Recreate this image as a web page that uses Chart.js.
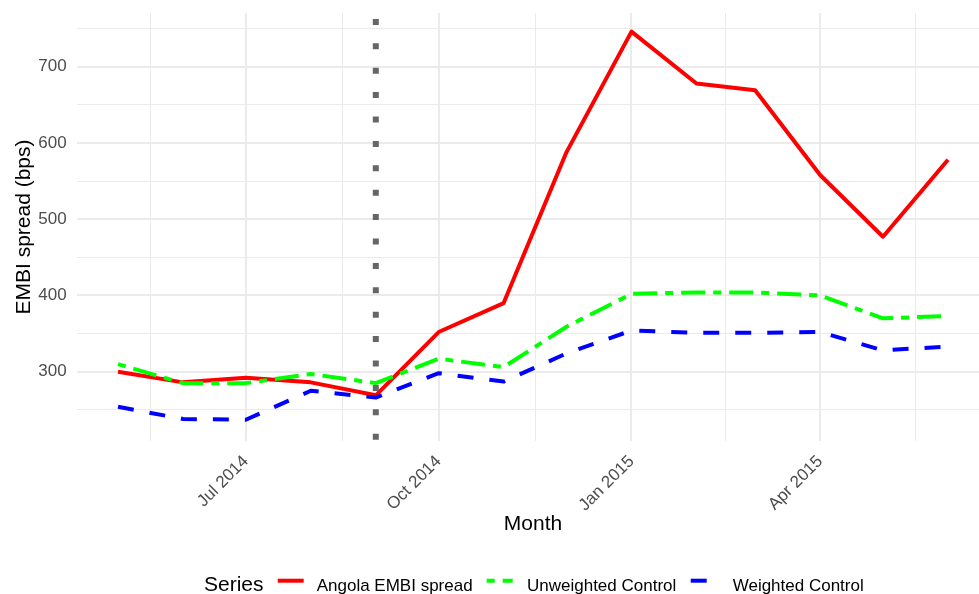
<!DOCTYPE html>
<html><head><meta charset="utf-8">
<script src="https://cdn.jsdelivr.net/npm/chart.js@4/dist/chart.umd.min.js"></script>
<style>html,body{margin:0;padding:0;background:#fff;overflow:hidden}canvas{display:block}</style>
</head><body>
<canvas id="c" width="979" height="594"></canvas>
<script>
// ---- data ----
const months = ["2014-05-01","2014-06-01","2014-07-01","2014-08-01","2014-09-01","2014-10-01","2014-11-01",
                "2014-12-01","2015-01-01","2015-02-01","2015-03-01","2015-04-01","2015-05-01","2015-06-01"];
const angola     = [300, 286, 292, 286, 269, 352, 390, 588, 746, 678, 669, 558, 477, 578];
const unweighted = [310, 285, 285, 297, 285, 317, 306, 359, 402, 404, 404, 400, 370, 373];
const weighted   = [254, 238, 237, 275, 266, 298, 287, 324, 354, 351, 351, 352, 328, 333];
const seriesNames = ["Angola EMBI spread", "Unweighted Control", "Weighted Control"];
const xTickDates  = ["2014-07-01","2014-10-01","2015-01-01","2015-04-01"];
const xTickLabels = ["Jul 2014","Oct 2014","Jan 2015","Apr 2015"];
const xBreakEdges = ["2014-04-01","2015-07-01"];
const yTickValues = [300, 400, 500, 600, 700];
const eventDate = "2014-09-01";

// ---- helpers ----
const FAMILY = '"Liberation Sans", Arial, Helvetica, sans-serif';
const SMALL = 17, BIG = 21;
const toDay = s => { const [y,m,d] = s.split('-').map(Number); return (Date.UTC(y,m-1,d) - Date.UTC(2014,4,1)) / 864e5; };
const xs = months.map(toDay);
const pts = arr => arr.map((v,i) => ({x: xs[i], y: v}));
const majorX = xTickDates.map(toDay);
const extX = [toDay(xBreakEdges[0]), ...majorX, toDay(xBreakEdges[1])];
const minorX = extX.slice(1).map((v,i) => (v + extX[i]) / 2);
const extY = [200, ...yTickValues, 800];
const minorY = extY.slice(1).map((v,i) => (v + extY[i]) / 2);

const X_MIN = -19.8, X_MAX = 410.8, Y_MIN = 209.1, Y_MAX = 770.4;
const eventX = toDay(eventDate);

const dashes = [[], [8, 8, 24, 8], [16, 16]];
const colors = ['#FF0000', '#00FF00', '#0000FF'];

const overlay = {
  id: 'overlay',
  afterDraw(chart) {
    const ctx = chart.ctx;
    ctx.save();
    ctx.fillStyle = '#000';
    ctx.font = BIG + 'px ' + FAMILY;
    ctx.textAlign = 'center';
    ctx.textBaseline = 'alphabetic';
    ctx.fillText('Month', 533, 530);
    ctx.save();
    ctx.translate(29.7, 227);
    ctx.rotate(-Math.PI / 2);
    ctx.fillText('EMBI spread (bps)', 0, 0);
    ctx.restore();
    // legend
    ctx.textAlign = 'left';
    ctx.fillText('Series', 204, 591.4);
    const sampleX = [277.7, 486.7, 690.7];
    const labelX = [316.7, 527, 732.7];
    ctx.font = SMALL + 'px ' + FAMILY;
    for (let i = 0; i < 3; i++) {
      ctx.beginPath();
      ctx.setLineDash(dashes[i]);
      ctx.lineCap = 'butt';
      ctx.strokeStyle = colors[i];
      ctx.lineWidth = 4;
      ctx.moveTo(sampleX[i], 580.7);
      ctx.lineTo(sampleX[i] + 26, 580.7);
      ctx.stroke();
      ctx.setLineDash([]);
      ctx.fillStyle = '#000';
      ctx.fillText(seriesNames[i], labelX[i], 590.7);
    }
    ctx.restore();
  }
};

const common = {pointRadius: 0, borderWidth: 4, tension: 0, borderCapStyle: 'butt', borderJoinStyle: 'round', fill: false};

new Chart(document.getElementById('c'), {
  type: 'line',
  data: {
    datasets: [
      {...common, label: seriesNames[0], data: pts(angola), borderColor: colors[0], order: 2},
      {...common, label: seriesNames[1], data: pts(unweighted), borderColor: colors[1], borderDash: dashes[1], order: 1},
      {...common, label: seriesNames[2], data: pts(weighted), borderColor: colors[2], borderDash: dashes[2], order: 0},
      {...common, label: 'event', data: [{x: eventX, y: Y_MIN}, {x: eventX, y: Y_MAX}], borderColor: '#666666',
        borderWidth: 6, borderDash: [6, 18.4], borderDashOffset: 23.1, order: -1}
    ]
  },
  options: {
    responsive: false,
    animation: false,
    devicePixelRatio: 1,
    layout: {padding: {top: 13, left: 0, right: 0, bottom: 0}},
    plugins: {legend: {display: false}, tooltip: {enabled: false}, title: {display: false}},
    scales: {
      x: {
        type: 'linear', min: X_MIN, max: X_MAX,
        afterBuildTicks: s => {
          s.ticks = [...minorX.map(v => ({value: v, mj: false, lbl: ''})),
                     ...majorX.map((v,i) => ({value: v, mj: true, lbl: xTickLabels[i]}))]
                    .sort((a,b) => a.value - b.value);
        },
        afterFit: s => { s.height = 153; s.paddingLeft = 0; s.paddingRight = 0; s.paddingTop = 0; s.paddingBottom = 0; },
        ticks: {autoSkip: false, minRotation: 45, maxRotation: 45, padding: 10.5, color: '#4D4D4D',
                font: {family: FAMILY, size: SMALL},
                callback: (v, i, t) => t[i].lbl},
        grid: {drawTicks: false, color: '#EBEBEB', lineWidth: c => (c.tick && c.tick.mj) ? 2 : 1},
        border: {display: false}
      },
      y: {
        type: 'linear', min: Y_MIN, max: Y_MAX,
        afterBuildTicks: s => {
          s.ticks = [...minorY.map(v => ({value: v, mj: false, lbl: ''})),
                     ...yTickValues.map(v => ({value: v, mj: true, lbl: String(v)}))]
                    .filter(t => t.value >= Y_MIN && t.value <= Y_MAX)
                    .sort((a,b) => a.value - b.value);
        },
        afterFit: s => { s.width = 76.5; s.paddingLeft = 0; s.paddingRight = 0; s.paddingTop = 0; s.paddingBottom = 0; },
        ticks: {autoSkip: false, padding: 9.8, color: '#4D4D4D', font: {family: FAMILY, size: SMALL},
                callback: (v, i, t) => t[i].lbl},
        grid: {drawTicks: false, color: '#EBEBEB', lineWidth: c => (c.tick && c.tick.mj) ? 2 : 1},
        border: {display: false}
      }
    }
  },
  plugins: [overlay]
});
</script>
</body></html>
